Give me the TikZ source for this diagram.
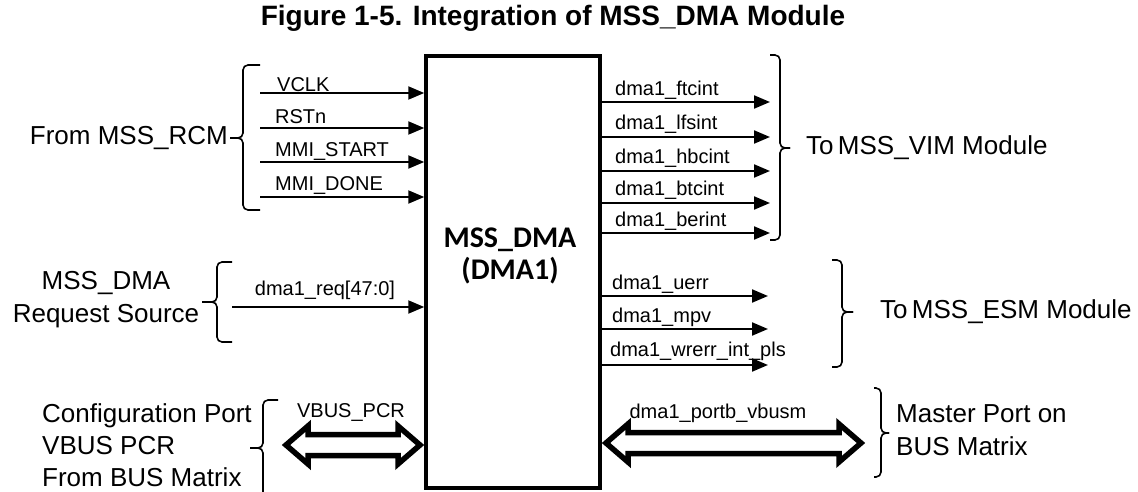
\documentclass[tikz,border=0pt]{standalone}
\usepackage{fontspec}
\setmainfont{Liberation Sans}
\newfontfamily\boxfont{Carlito}
\usetikzlibrary{arrows.meta}
\newcommand\busarr[3]{%
  \draw[bus] (#1,#3) -- (#1+22,#3-19) -- (#1+22,#3-10.5) -- (#2-22,#3-10.5) -- (#2-22,#3-19)
    -- (#2,#3) -- (#2-22,#3+19) -- (#2-22,#3+10.5) -- (#1+22,#3+10.5) -- (#1+22,#3+19) -- cycle;}
\begin{document}
\begin{tikzpicture}[x=1pt,y=-1pt,
  sig/.style={draw, line width=2pt, -{Triangle[length=16pt,width=13pt]}},
  lbl/.style={font=\fontsize{20}{22}\selectfont, inner sep=0pt, anchor=base west},
  big/.style={font=\fontsize{26}{33}\selectfont, inner sep=0pt},
  brk/.style={draw, line width=1.6pt, rounded corners=5pt},
  bus/.style={draw, line width=5.5pt, line join=miter, fill=white}]
\useasboundingbox (0,0) rectangle (1138,492);

% title
\node[font=\fontsize{28}{30}\selectfont\bfseries, inner sep=0pt] (title) at (553,18) {Figure 1-5. Integration of MSS\_DMA Module};

% main box
\node[draw, line width=3.5pt, minimum width=174pt, minimum height=432pt, inner sep=0pt] (dma) at (513,272) {};
\node[font=\boxfont\bfseries\fontsize{30}{32}\selectfont, align=center, inner sep=0pt] (dmatext) at (510,256) {MSS\_DMA\\(DMA1)};

% left inputs from RCM
\coordinate (i1) at (260,93);
\coordinate (i2) at (260,128);
\coordinate (i3) at (260,162);
\coordinate (i4) at (260,197);
\draw[sig] (i1) -- (i1 -| dma.west);
\draw[sig] (i2) -- (i2 -| dma.west);
\draw[sig] (i3) -- (i3 -| dma.west);
\draw[sig] (i4) -- (i4 -| dma.west);
\node[lbl] (l1) at (277,92) {VCLK};
\node[lbl] (l2) at (275,124) {RSTn};
\node[lbl] (l3) at (275,157) {MMI\_START};
\node[lbl] (l4) at (275,190) {MMI\_DONE};
\draw[brk] (260,65) -- (243,65) -- (243,138) -- (230,138);
\draw[brk] (230,138) -- (243,138) -- (243,210) -- (260,210);
\node[big, anchor=east] (rcm) at (228,138) {From MSS\_RCM};

% request source
\coordinate (r1) at (232,307);
\draw[sig] (r1) -- (r1 -| dma.west);
\node[font=\fontsize{20}{22}\selectfont, inner sep=0pt] (rl) at (325,290) {dma1\_req[47:0]};
\draw[brk] (232,262) -- (217,262) -- (217,302) -- (202,302);
\draw[brk] (202,302) -- (217,302) -- (217,342) -- (232,342);
\node[big, align=center] (req) at (106,300) {MSS\_DMA\\Request Source};

% configuration port
\busarr{286}{420}{445}
\node[font=\fontsize{20}{22}\selectfont, inner sep=0pt] (vbl) at (351,413) {VBUS\_PCR};
\draw[brk] (278,400) -- (263,400) -- (263,448) -- (250,448);
\draw[brk] (250,448) -- (263,448) -- (263,500);
\node[font=\fontsize{26}{32}\selectfont, inner sep=0pt, align=left, anchor=west] (cfg) at (42,445) {Configuration Port\\VBUS PCR\\From BUS Matrix};

% VIM outputs
\coordinate (o1) at (770,102);
\coordinate (o2) at (770,137);
\coordinate (o3) at (770,171);
\coordinate (o4) at (770,203);
\coordinate (o5) at (770,233);
\draw[sig] (o1 -| dma.east) -- (o1);
\draw[sig] (o2 -| dma.east) -- (o2);
\draw[sig] (o3 -| dma.east) -- (o3);
\draw[sig] (o4 -| dma.east) -- (o4);
\draw[sig] (o5 -| dma.east) -- (o5);
\node[lbl] (ol1) at (615,96) {dma1\_ftcint};
\node[lbl] (ol2) at (615,130) {dma1\_lfsint};
\node[lbl] (ol3) at (615,164) {dma1\_hbcint};
\node[lbl] (ol4) at (615,196) {dma1\_btcint};
\node[lbl] (ol5) at (615,226) {dma1\_berint};
\draw[brk] (770,55) -- (780,55) -- (780,148) -- (790,148);
\draw[brk] (790,148) -- (780,148) -- (780,240) -- (770,240);
\node[big, anchor=west] (vim) at (806,148) {To\,MSS\_VIM Module};

% ESM outputs
\coordinate (e1) at (768,296);
\coordinate (e2) at (768,329);
\coordinate (e3) at (768,365);
\draw[sig] (e1 -| dma.east) -- (e1);
\draw[sig] (e2 -| dma.east) -- (e2);
\draw[sig] (e3 -| dma.east) -- (e3);
\node[lbl] (el1) at (612,289) {dma1\_uerr};
\node[lbl] (el2) at (612,322) {dma1\_mpv};
\node[lbl] (el3) at (610,356) {dma1\_wrerr\_int\_pls};
\draw[brk] (832,260) -- (842,260) -- (842,312) -- (853,312);
\draw[brk] (853,312) -- (842,312) -- (842,367) -- (832,367);
\node[big, anchor=west] (esm) at (880,312) {To\,MSS\_ESM Module};

% master port
\busarr{606}{861}{443}
\node[font=\fontsize{20}{22}\selectfont, inner sep=0pt] (mpl) at (718,413) {dma1\_portb\_vbusm};
\draw[brk] (874,388) -- (881,388) -- (881,433) -- (889,433);
\draw[brk] (889,433) -- (881,433) -- (881,477) -- (874,477);
\node[big, align=left, anchor=west] (mst) at (896,430) {Master Port on\\BUS Matrix};
\end{tikzpicture}
\end{document}
